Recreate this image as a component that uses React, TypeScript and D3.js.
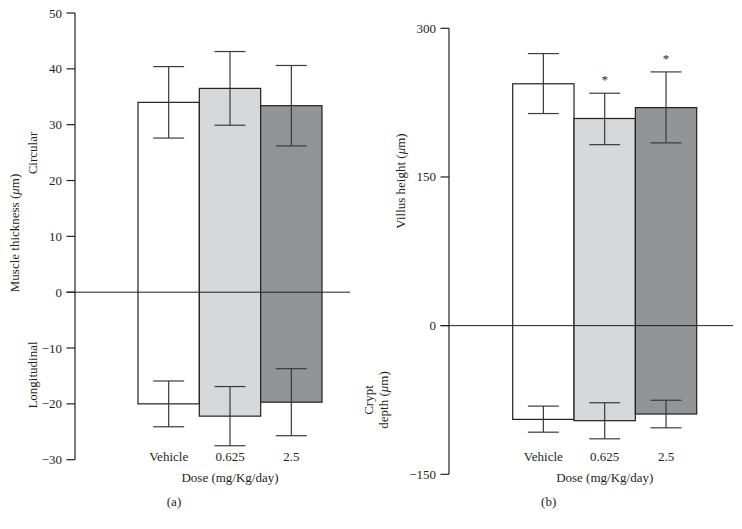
import React from "react";
import * as d3 from "d3";

const categories = ["Vehicle", "0.625", "2.5"];

// Panel (a): muscle thickness
const circularMean = [34.0, 36.5, 33.4];
const circularHigh = [40.4, 43.1, 40.6];
const circularLow = [27.6, 29.9, 26.2];
const longitudinalMean = [-20.0, -22.2, -19.7];
const longitudinalHigh = [-15.9, -16.9, -13.7];
const longitudinalLow = [-24.1, -27.5, -25.7];
const ticksA = [-30, -20, -10, 0, 10, 20, 30, 40, 50];

// Panel (b): villus height / crypt depth
const villusMean = [244, 209, 220];
const villusHigh = [274.5, 234.5, 256];
const villusLow = [214, 182.6, 184.4];
const cryptMean = [-94.6, -95.9, -89.2];
const cryptHigh = [-81.2, -77.8, -75.3];
const cryptLow = [-107.5, -114.2, -103.1];
const ticksB = [-150, 0, 150, 300];
const significant = [false, true, true];

const fills = ["#ffffff", "#d7d8da", "#939495"];
const INK = "#231f20";
const FONT = "'Liberation Serif', 'Times New Roman', serif";

const fmt = (v: number) => (v < 0 ? "\u2212" + Math.abs(v) : String(v));

type PanelProps = {
  axisX: number;
  barX0: number;
  barX1: number;
  domain: [number, number];
  range: [number, number];
  ticks: number[];
  zeroEnd: number;
  posMean: number[];
  posHigh: number[];
  posLow: number[];
  negMean: number[];
  negHigh: number[];
  negLow: number[];
  stars?: boolean[];
  label: string;
};

function Panel(p: PanelProps) {
  const y = d3.scaleLinear().domain(p.domain).range(p.range);
  const x = d3.scaleBand().domain(categories).range([p.barX0, p.barX1]).padding(0);
  const bw = x.bandwidth();
  const cap = 15.5;
  const tickLen = 8.5;
  return (
    <g>
      {categories.map((c, i) => (
        <rect
          key={"b" + c}
          x={x(c)}
          y={y(p.posMean[i])}
          width={bw}
          height={y(p.negMean[i]) - y(p.posMean[i])}
          fill={fills[i]}
          stroke={INK}
          strokeWidth={1.2}
        />
      ))}
      {categories.map((c, i) => {
        const cx = (x(c) as number) + bw / 2;
        return (
          <g key={"e" + c} stroke="#3a3a3a" strokeWidth={1.2}>
            <line x1={cx} x2={cx} y1={y(p.posHigh[i])} y2={y(p.posLow[i])} />
            <line x1={cx - cap} x2={cx + cap} y1={y(p.posHigh[i])} y2={y(p.posHigh[i])} />
            <line x1={cx - cap} x2={cx + cap} y1={y(p.posLow[i])} y2={y(p.posLow[i])} />
            <line x1={cx} x2={cx} y1={y(p.negHigh[i])} y2={y(p.negLow[i])} />
            <line x1={cx - cap} x2={cx + cap} y1={y(p.negHigh[i])} y2={y(p.negHigh[i])} />
            <line x1={cx - cap} x2={cx + cap} y1={y(p.negLow[i])} y2={y(p.negLow[i])} />
          </g>
        );
      })}
      {p.stars &&
        categories.map((c, i) =>
          p.stars![i] ? (
            <text
              key={"s" + c}
              x={(x(c) as number) + bw / 2}
              y={y(p.posHigh[i]) - 9}
              textAnchor="middle"
              fontSize={13}
              fontFamily={FONT}
              fill={INK}
            >
              *
            </text>
          ) : null
        )}
      <line
        x1={p.axisX - tickLen}
        x2={p.zeroEnd}
        y1={y(0)}
        y2={y(0)}
        stroke={INK}
        strokeWidth={1}
      />
      <line
        x1={p.axisX}
        x2={p.axisX}
        y1={y(p.domain[0])}
        y2={y(p.domain[1])}
        stroke={INK}
        strokeWidth={1.2}
      />
      {p.ticks.map((t) => (
        <g key={"t" + t}>
          <line
            x1={p.axisX - tickLen}
            x2={p.axisX}
            y1={y(t)}
            y2={y(t)}
            stroke={INK}
            strokeWidth={1.2}
          />
          <text
            x={p.axisX - 13}
            y={y(t) + 4.5}
            textAnchor="end"
            fontSize={13}
            fontFamily={FONT}
            fill={INK}
          >
            {fmt(t)}
          </text>
        </g>
      ))}
      {categories.map((c) => (
        <text
          key={"c" + c}
          x={(x(c) as number) + bw / 2}
          y={461}
          textAnchor="middle"
          fontSize={13}
          fontFamily={FONT}
          fill={INK}
        >
          {c}
        </text>
      ))}
      <text
        x={(p.barX0 + p.barX1) / 2}
        y={482}
        textAnchor="middle"
        fontSize={13}
        fontFamily={FONT}
        fill={INK}
      >
        Dose (mg/Kg/day)
      </text>
      <text
        x={(p.barX0 + p.barX1) / 2 - 56}
        y={506}
        textAnchor="middle"
        fontSize={13}
        fontFamily={FONT}
        fill={INK}
      >
        {p.label}
      </text>
    </g>
  );
}

function Rot({ x, y, children }: { x: number; y: number; children: React.ReactNode }) {
  return (
    <text
      transform={`translate(${x},${y}) rotate(-90)`}
      textAnchor="middle"
      fontSize={13}
      fontFamily={FONT}
      fill={INK}
    >
      {children}
    </text>
  );
}

export default function App() {
  return (
    <svg
      width={742}
      height={529}
      style={{ position: "absolute", left: 0, top: 0, background: "#fff" }}
    >
      <Panel
        axisX={75}
        barX0={138}
        barX1={322}
        domain={[-30, 50]}
        range={[459.7, 13]}
        ticks={ticksA}
        zeroEnd={350}
        posMean={circularMean}
        posHigh={circularHigh}
        posLow={circularLow}
        negMean={longitudinalMean}
        negHigh={longitudinalHigh}
        negLow={longitudinalLow}
        label="(a)"
      />
      <Panel
        axisX={449}
        barX0={512.7}
        barX1={696.7}
        domain={[-150, 300]}
        range={[474.3, 28.3]}
        ticks={ticksB}
        zeroEnd={733}
        posMean={villusMean}
        posHigh={villusHigh}
        posLow={villusLow}
        negMean={cryptMean}
        negHigh={cryptHigh}
        negLow={cryptLow}
        stars={significant}
        label="(b)"
      />
      <Rot x={19} y={233}>
        Muscle thickness (<tspan fontStyle="italic">μ</tspan>m)
      </Rot>
      <Rot x={37} y={153}>Circular</Rot>
      <Rot x={37} y={375}>Longitudinal</Rot>
      <Rot x={405} y={181}>
        Villus height (<tspan fontStyle="italic">μ</tspan>m)
      </Rot>
      <Rot x={373} y={400}>Crypt</Rot>
      <Rot x={388} y={400}>
        depth (<tspan fontStyle="italic">μ</tspan>m)
      </Rot>
    </svg>
  );
}
